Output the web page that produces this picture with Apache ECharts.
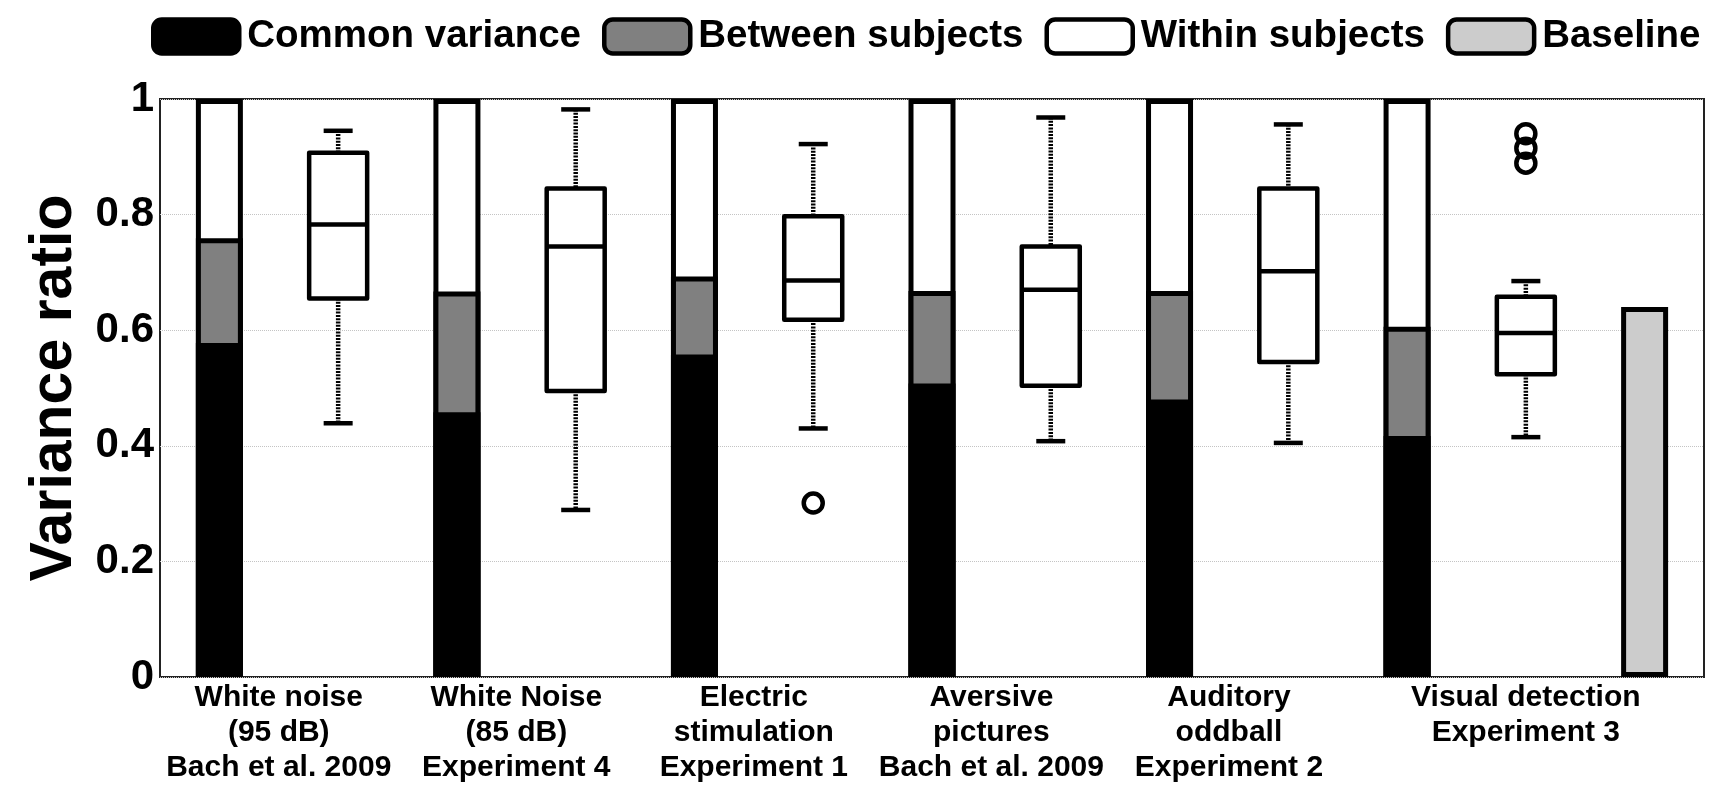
<!DOCTYPE html>
<html>
<head>
<meta charset="utf-8">
<script src="https://cdn.jsdelivr.net/npm/echarts@6/dist/echarts.min.js"></script>
<style>
  html, body { margin: 0; padding: 0; background: #fff; }
  #chart { width: 1726px; height: 786px; }
</style>
</head>
<body>
<div id="chart"></div>
<script>
// Experiment groups and where their labels sit on the x scale
const groupLabels = [
  'White noise\n(95 dB)\nBach et al. 2009',
  'White Noise\n(85 dB)\nExperiment 4',
  'Electric\nstimulation\nExperiment 1',
  'Aversive\npictures\nBach et al. 2009',
  'Auditory\noddball\nExperiment 2',
  'Visual detection\nExperiment 3'
];
const labelX = [1.25, 2.25, 3.25, 4.25, 5.25, 6.5];

// Variance decomposition bars (segment sizes)
const barX = [1, 2, 3, 4, 5, 6];
const commonVar   = [0.578, 0.458, 0.558, 0.508, 0.480, 0.417];
const betweenSubj = [0.181, 0.209, 0.135, 0.160, 0.188, 0.189];
const withinSubj  = [0.241, 0.333, 0.307, 0.332, 0.332, 0.394];

// Baseline bar
const baselineX = [7];
const baselineVal = [0.640];

// Box plots of the per-subject variance ratio
const boxX = [1.5, 2.5, 3.5, 4.5, 5.5, 6.5];
const whiskerLow  = [0.439, 0.289, 0.430, 0.408, 0.405, 0.415];
const quart1      = [0.655, 0.495, 0.618, 0.504, 0.545, 0.524];
const median      = [0.783, 0.745, 0.686, 0.670, 0.702, 0.595];
const quart3      = [0.907, 0.845, 0.797, 0.745, 0.845, 0.658];
const whiskerHigh = [0.945, 0.982, 0.922, 0.968, 0.956, 0.685];

// Outliers
const outlierX = [3.5, 6.5, 6.5, 6.5];
const outlierY = [0.301, 0.940, 0.915, 0.889];

const FONT = "'Liberation Sans', Arial, Helvetica, sans-serif";

const topCommon = barX.map((x, i) => [x, commonVar[i]]);
const topBetween = barX.map((x, i) => [x, commonVar[i] + betweenSubj[i]]);
const topWithin = barX.map((x, i) => [x, commonVar[i] + betweenSubj[i] + withinSubj[i]]);
const baselineData = baselineX.map((x, i) => [x, baselineVal[i]]);
const boxData = boxX.map((x, i) => [x, whiskerLow[i], quart1[i], median[i], quart3[i], whiskerHigh[i]]);
const outlierData = outlierX.map((x, i) => [x, outlierY[i]]);

const barCommon = { barWidth: 47, barGap: '-100%', silent: true };
const edge = { borderColor: '#000', borderWidth: 5 };

function renderBox(params, api) {
  const x = api.value(0);
  const lo = api.coord([x, api.value(1)]);
  const q1 = api.coord([x, api.value(2)]);
  const md = api.coord([x, api.value(3)]);
  const q3 = api.coord([x, api.value(4)]);
  const hi = api.coord([x, api.value(5)]);
  const cx = q1[0];
  const hb = 29, hc = 14.5;
  const dotted = { stroke: '#000', lineWidth: 4.5, lineDash: [2, 1.3] };
  const solid = { stroke: '#000', lineWidth: 4.5 };
  return {
    type: 'group',
    children: [
      { type: 'line', shape: { x1: cx, y1: hi[1], x2: cx, y2: q3[1] }, style: dotted },
      { type: 'line', shape: { x1: cx, y1: q1[1], x2: cx, y2: lo[1] }, style: dotted },
      { type: 'line', shape: { x1: cx - hc, y1: hi[1], x2: cx + hc, y2: hi[1] }, style: solid },
      { type: 'line', shape: { x1: cx - hc, y1: lo[1], x2: cx + hc, y2: lo[1] }, style: solid },
      { type: 'rect', shape: { x: cx - hb, y: q3[1], width: 2 * hb, height: q1[1] - q3[1] },
        style: { fill: '#fff', stroke: '#000', lineWidth: 4.5, lineJoin: 'round' } },
      { type: 'line', shape: { x1: cx - hb, y1: md[1], x2: cx + hb, y2: md[1] }, style: solid }
    ]
  };
}

const chart = echarts.init(document.getElementById('chart'), null, { renderer: 'canvas' });
chart.setOption({
  animation: false,
  backgroundColor: '#fff',
  textStyle: { fontFamily: FONT },
  legend: {
    top: 12,
    left: 146,
    itemWidth: 86,
    itemHeight: 34,
    itemGap: 21,
    icon: 'roundRect',
    selectedMode: false,
    itemStyle: { borderColor: '#000', borderWidth: 4.5 },
    textStyle: { fontSize: 38.5, fontWeight: 'bold', color: '#000', fontFamily: FONT, padding: [0, 0, 0, 3] },
    data: ['Common variance', 'Between subjects', 'Within subjects', 'Baseline']
  },
  grid: {
    left: 160, right: 22, top: 99, bottom: 109,
    show: true, borderColor: '#222', borderWidth: 2, backgroundColor: 'transparent'
  },
  xAxis: {
    type: 'value',
    min: 0.75, max: 7.25, interval: 0.25,
    axisLine: { show: false },
    axisTick: { show: false },
    splitLine: { show: false },
    axisLabel: {
      margin: 3,
      fontSize: 30, fontWeight: 'bold', color: '#000', fontFamily: FONT,
      lineHeight: 35, align: 'center', verticalAlign: 'top',
      showMinLabel: true, showMaxLabel: true,
      formatter: function (v) {
        const i = labelX.findIndex(p => Math.abs(p - v) < 1e-6);
        return i >= 0 ? groupLabels[i] : '';
      }
    }
  },
  yAxis: {
    type: 'value',
    min: 0, max: 1, interval: 0.2,
    name: 'Variance ratio',
    nameLocation: 'middle',
    nameRotate: 90,
    nameGap: 70,
    nameTextStyle: { fontSize: 59, fontWeight: 'bold', color: '#000', fontFamily: FONT },
    axisLine: { show: false },
    axisTick: { show: false },
    splitLine: { show: true, lineStyle: { color: '#c4c4c4', width: 1, type: 'dotted' } },
    axisLabel: { margin: 6, fontSize: 42, fontWeight: 'bold', color: '#000', fontFamily: FONT }
  },
  series: [
    Object.assign({ type: 'bar', name: 'Within subjects', data: topWithin,
      itemStyle: Object.assign({ color: '#fff' }, edge) }, barCommon),
    Object.assign({ type: 'bar', name: 'Between subjects', data: topBetween,
      itemStyle: Object.assign({ color: '#808080' }, edge) }, barCommon),
    Object.assign({ type: 'bar', name: 'Common variance', data: topCommon,
      itemStyle: Object.assign({ color: '#000' }, edge) }, barCommon),
    Object.assign({ type: 'bar', name: 'Baseline', data: baselineData,
      itemStyle: Object.assign({ color: '#cccccc' }, edge) }, barCommon),
    {
      type: 'custom', name: 'box', silent: true,
      renderItem: renderBox,
      encode: { x: 0, y: [1, 2, 3, 4, 5] },
      data: boxData, z: 3
    },
    {
      type: 'scatter', name: 'outliers', silent: true,
      symbol: 'circle', symbolSize: 19,
      itemStyle: { color: 'rgba(255,255,255,0)', borderColor: '#000', borderWidth: 4.5, opacity: 1 },
      data: outlierData, z: 4
    }
  ]
});
</script>
</body>
</html>
